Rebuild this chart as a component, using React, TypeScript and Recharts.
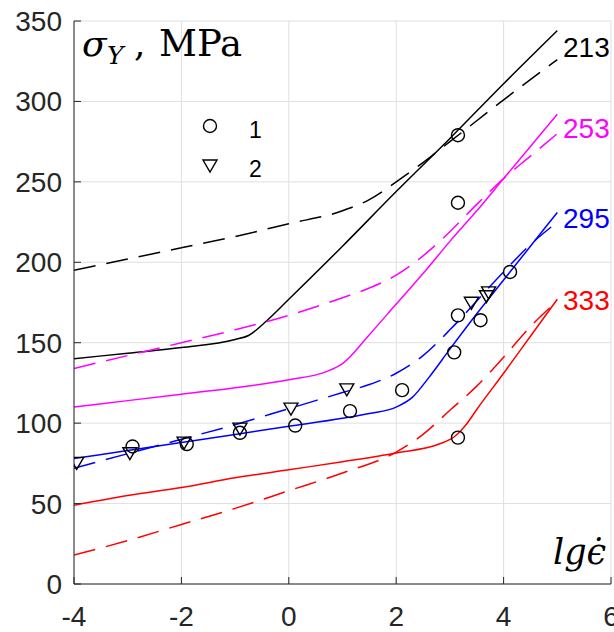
import * as React from "react";
import {
  ComposedChart,
  Line,
  Scatter,
  XAxis,
  YAxis,
  CartesianGrid,
} from "recharts";

// axes
const xTicks = [-4, -2, 0, 2, 4, 6];
const yTicks = [0, 50, 100, 150, 200, 250, 300, 350];

// 213 K
const x213Solid = [-4, -3, -2, -1, -0.75, -0.4, 0, 1, 2, 3, 4, 5];
const y213Solid = [140, 143.5, 147, 152, 154.5, 164, 177, 210, 244, 277, 311, 344];
const x213Dash = [-4, -3, -2, -1, 0, 1, 1.5, 2, 2.5, 3, 3.5, 4, 5];
const y213Dash = [195, 202, 209, 216, 224, 232, 239, 250, 262, 275, 288, 301, 326];

// 253 K
const x253Solid = [-4, -3, -2, -1, 0, 0.7, 1, 1.5, 2, 2.5, 3, 3.5, 4, 4.5, 5];
const y253Solid = [110, 114, 118, 122, 127, 132, 137, 155, 174, 193, 213, 232, 252, 272, 292];
const x253Dash = [-4, -3, -2, -1, 0, 1, 1.5, 2, 2.5, 3, 3.5, 4, 4.5, 5];
const y253Dash = [134, 142, 150, 158, 167, 178, 184, 192, 204, 219, 236, 252, 266, 280];

// 295 K
const x295Solid = [-4, -3, -2, -1, 0, 1, 1.5, 2, 2.3, 2.6, 3, 3.5, 4, 4.5, 5];
const y295Solid = [78, 83, 88, 93, 98, 103, 106, 110, 116, 128, 146, 168, 189, 210, 231];
const x295Dash = [-4, -3, -2, -1, 0, 0.5, 1, 1.5, 2, 2.5, 3, 3.5, 4, 4.5, 5];
const y295Dash = [72, 81, 90, 99, 109, 114, 119, 124, 131, 142, 158, 176, 194, 211, 225];

// 333 K
const x333Solid = [-4, -3, -2, -1, 0, 1, 2, 2.8, 3.1, 3.3, 3.5, 4, 4.5, 5];
const y333Solid = [49, 55, 60, 66, 71, 76, 81.5, 87, 92, 99, 108.5, 131, 154, 177];
const x333Dash = [-4, -3, -2, -1, 0, 1, 2, 2.5, 3, 3.5, 4, 4.5, 5];
const y333Dash = [18, 27, 37, 47, 58, 69, 82, 93, 108, 123, 141, 160, 176];

// experiment 1 (circles) and 2 (triangles)
const xExp1 = [-2.91, -1.9, -0.91, 0.12, 1.14, 2.11, 3.08, 3.57, 3.15, 3.15, 4.12, 3.15, 3.15];
const yExp1 = [85.5, 87, 94, 98.5, 107.5, 120.5, 144, 164, 167, 91, 194, 237, 279];
const xExp2 = [-3.95, -2.96, -1.95, -0.91, 0.04, 1.08, 3.4, 3.68, 3.72];
const yExp2 = [75, 81, 87.6, 96.3, 108.7, 120.7, 174.5, 178.6, 181];

const legendLabels = ["1", "2"];
const tempLabels = ["213", "253", "295", "333"];

const zip = (xs: number[], ys: number[]) => xs.map((x, i) => ({ x, y: ys[i] }));

const curves = [
  { key: "213s", data: zip(x213Solid, y213Solid), color: "#000000", dashed: false },
  { key: "213d", data: zip(x213Dash, y213Dash), color: "#000000", dashed: true },
  { key: "253s", data: zip(x253Solid, y253Solid), color: "#ff00ff", dashed: false },
  { key: "253d", data: zip(x253Dash, y253Dash), color: "#ff00ff", dashed: true },
  { key: "295s", data: zip(x295Solid, y295Solid), color: "#0000ff", dashed: false },
  { key: "295d", data: zip(x295Dash, y295Dash), color: "#0000ff", dashed: true },
  { key: "333s", data: zip(x333Solid, y333Solid), color: "#ff0000", dashed: false },
  { key: "333d", data: zip(x333Dash, y333Dash), color: "#ff0000", dashed: true },
];

const tempColors = ["#000000", "#ff00ff", "#0000ff", "#ff0000"];
const tempY = [57, 138, 228, 310];

const Circle = (props: any) => {
  const { cx, cy } = props;
  if (cx == null || cy == null) return null;
  return <circle cx={cx} cy={cy} r={6.5} fill="none" stroke="#000" strokeWidth={1.4} />;
};

const Triangle = (props: any) => {
  const { cx, cy } = props;
  if (cx == null || cy == null) return null;
  return (
    <polygon
      points={`${cx - 7},${cy - 6} ${cx + 7},${cy - 6} ${cx},${cy + 6}`}
      fill="none"
      stroke="#000"
      strokeWidth={1.4}
    />
  );
};

const sans = "Liberation Sans, Arial, sans-serif";
const tickFont = { fill: "#262626", fontSize: 28, fontFamily: sans };

export default function App() {
  return (
    <div style={{ position: "absolute", left: 0, top: 0, width: 614, height: 632, background: "#fff" }}>
      <ComposedChart width={614} height={632} margin={{ top: 21, right: 3, bottom: 0, left: 0 }}>
        <CartesianGrid stroke="#dfdfdf" strokeWidth={1} />
        <XAxis
          type="number"
          dataKey="x"
          domain={[-4, 6]}
          ticks={xTicks}
          interval={0}
          allowDataOverflow
          height={48}
          tickSize={-7}
          tickMargin={29}
          tick={tickFont}
          axisLine={{ stroke: "#262626" }}
          tickLine={{ stroke: "#262626" }}
        />
        <YAxis
          type="number"
          domain={[0, 350]}
          ticks={yTicks}
          interval={0}
          allowDataOverflow
          width={74}
          tickSize={-7}
          tickMargin={19}
          tick={tickFont}
          axisLine={{ stroke: "#262626" }}
          tickLine={{ stroke: "#262626" }}
        />
        {curves.map((c) => (
          <Line
            key={c.key}
            data={c.data}
            dataKey="y"
            type="monotone"
            stroke={c.color}
            strokeWidth={1.5}
            strokeDasharray={c.dashed ? "22 11" : undefined}
            dot={false}
            activeDot={false}
            isAnimationActive={false}
            legendType="none"
          />
        ))}
        <Scatter data={zip(xExp1, yExp1)} dataKey="y" shape={Circle} isAnimationActive={false} legendType="none" />
        <Scatter data={zip(xExp2, yExp2)} dataKey="y" shape={Triangle} isAnimationActive={false} legendType="none" />
      </ComposedChart>
      <svg
        width={614}
        height={632}
        style={{ position: "absolute", left: 0, top: 0, pointerEvents: "none" }}
      >
        {/* legend */}
        <circle cx={210} cy={126} r={6.5} fill="none" stroke="#000" strokeWidth={1.4} />
        <polygon points="203,160 217,160 210,172" fill="none" stroke="#000" strokeWidth={1.4} />
        <text x={249} y={138} fontSize={23} fontFamily={sans} fill="#000">
          {legendLabels[0]}
        </text>
        <text x={249} y={177} fontSize={23} fontFamily={sans} fill="#000">
          {legendLabels[1]}
        </text>
        {/* axis captions */}
        <text fontFamily="DejaVu Serif, serif" fontSize={36} fill="#000">
          <tspan x={82} y={56} fontStyle="italic">σ</tspan>
          <tspan x={107} y={64} fontStyle="italic" fontSize={25}>Y</tspan>
          <tspan x={134} y={56}>,</tspan>
          <tspan x={159} y={56} fontSize={37}>MPa</tspan>
        </text>
        <text x={553} y={564} fontFamily="DejaVu Serif, serif" fontStyle="italic" fontSize={35} fill="#000">
          lgϵ̇
        </text>
        {tempLabels.map((t, i) => (
          <text key={t} x={563} y={tempY[i]} fontSize={28} fontFamily={sans} fill={tempColors[i]}>
            {t}
          </text>
        ))}
      </svg>
    </div>
  );
}
